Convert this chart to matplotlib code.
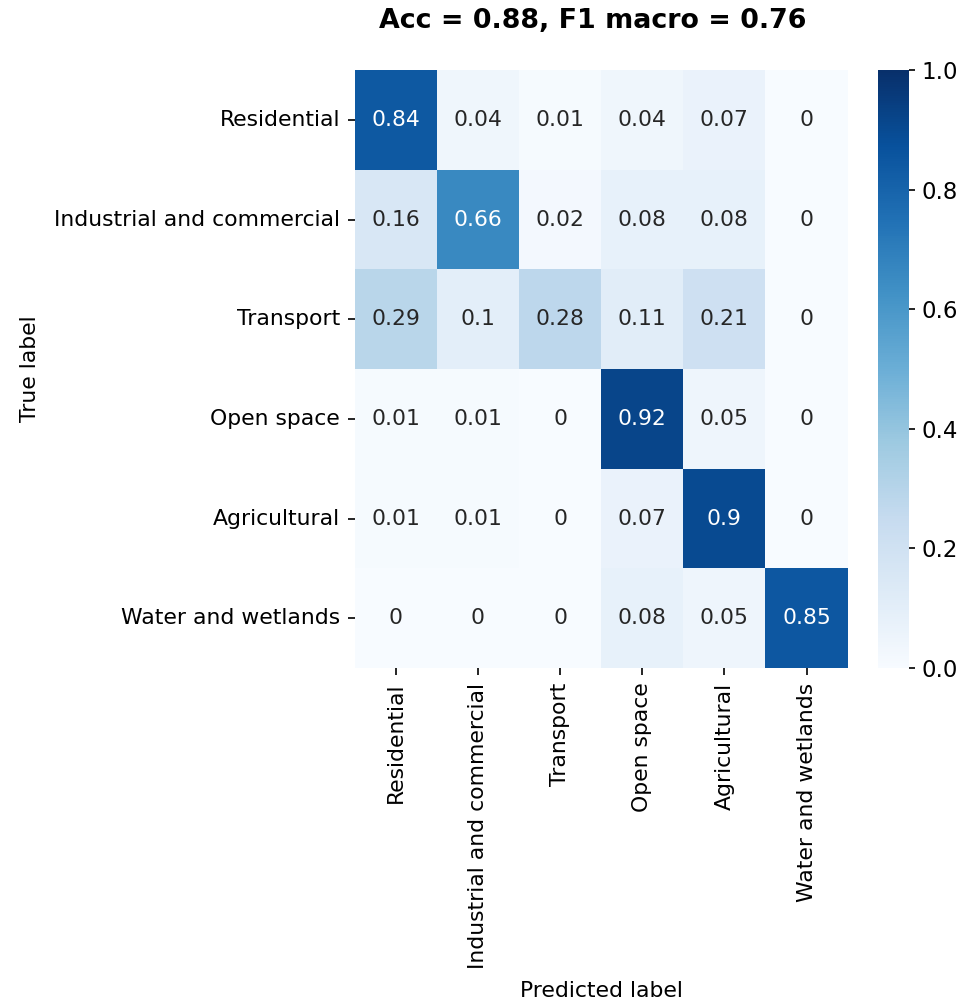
import numpy as np
import matplotlib
matplotlib.use("Agg")
import matplotlib.pyplot as plt
import seaborn as sns

# class names and row-normalised confusion matrix
classes = ["Residential", "Industrial and commercial", "Transport",
           "Open space", "Agricultural", "Water and wetlands"]
row_residential = [0.84, 0.04, 0.01, 0.04, 0.07, 0]
row_industrial = [0.16, 0.66, 0.02, 0.08, 0.08, 0]
row_transport = [0.29, 0.1, 0.28, 0.11, 0.21, 0]
row_open = [0.01, 0.01, 0, 0.92, 0.05, 0]
row_agri = [0.01, 0.01, 0, 0.07, 0.9, 0]
row_water = [0, 0, 0, 0.08, 0.05, 0.85]
acc = 0.88
f1_macro = 0.76

cm = np.array([row_residential, row_industrial, row_transport,
               row_open, row_agri, row_water])

fig = plt.figure(figsize=(961 / 150, 1003 / 150), dpi=150)
ax = fig.add_axes([0.369, 0.334, 0.513, 0.596])
cax = fig.add_axes([0.9137, 0.334, 0.0323, 0.596])

sns.heatmap(cm, annot=True, fmt="g", cmap="Blues", vmin=0, vmax=1,
            xticklabels=classes, yticklabels=classes, ax=ax, cbar_ax=cax,
            annot_kws={"fontsize": 10.5})
ax.set_xlabel("Predicted label", fontsize=10.5)
ax.set_ylabel("True label", fontsize=10.5)
ax.xaxis.set_label_coords(0.5, -0.523)
ax.yaxis.set_label_coords(-0.639, 0.5)
ax.tick_params(labelsize=10.5)
plt.setp(ax.get_xticklabels(), rotation=90)
plt.setp(ax.get_yticklabels(), rotation=0)
cax.tick_params(labelsize=11, length=3, pad=3)
fig.suptitle(f"Acc = {acc}, F1 macro = {f1_macro}", fontsize=12.9,
             fontweight="bold", x=0.617, y=0.992)

fig.savefig("out.png", dpi=150)
